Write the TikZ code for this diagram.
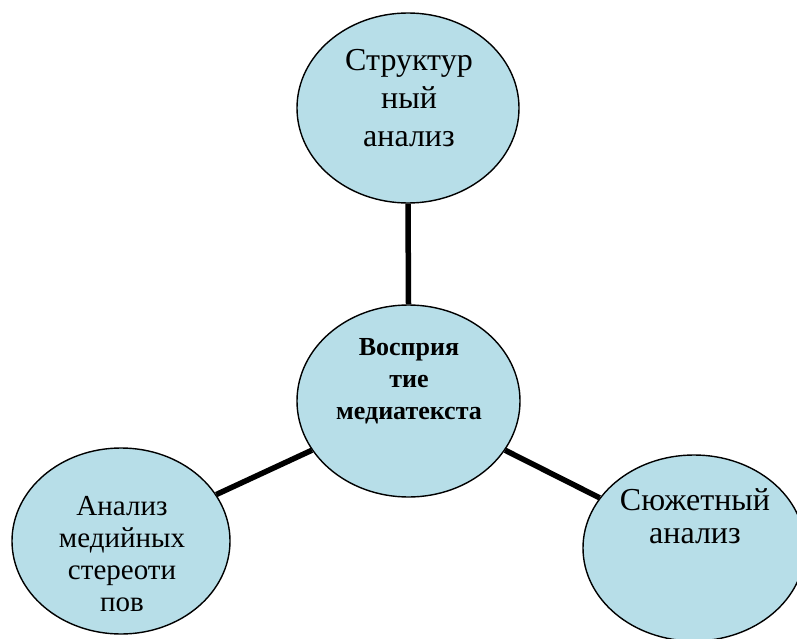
\documentclass[tikz,border=0pt]{standalone}
\usepackage{fontspec}
\setmainfont{Liberation Serif}
\usetikzlibrary{shapes.geometric}
\definecolor{bubblefill}{HTML}{B7DEE8}
\tikzset{
  bubble/.style={ellipse, draw=black, line width=1.4pt, fill=bubblefill, inner sep=0pt},
  link/.style={line width=5.5pt, draw=black},
  caption/.style={anchor=base, inner sep=0pt}
}
\newcommand{\lines}[3]{{\fontsize{#1}{#2}\selectfont\begin{tabular}[t]{@{}c@{}}#3\end{tabular}}}
\begin{document}
\begin{tikzpicture}[x=1pt,y=-1pt]
\useasboundingbox (0,0) rectangle (797,639);
% bubbles
\node[bubble, minimum width=222pt, minimum height=190pt] (top) at (408,108) {};
\node[bubble, minimum width=223pt, minimum height=192pt] (mid) at (408.5,401) {};
\node[bubble, minimum width=218pt, minimum height=186pt] (left) at (121,541) {};
\node[bubble, minimum width=222pt, minimum height=186pt] (right) at (694,548) {};
% connectors
\draw[link] (top.south) -- (mid.north);
\draw[link] (mid.207) -- (left.26);
\draw[link] (mid.-27) -- (right.152);
% captions
\node[caption] (toptext) at (409,71) {\lines{32}{38}{Структур\\ный\\анализ}};
\node[caption] (midtext) at (409,355) {\lines{26}{32}{\bfseries Восприя\\\bfseries тие\\\bfseries медиатекста}};
\node[caption] (lefttext) at (122,515) {\lines{29}{32}{Анализ\\медийных\\стереоти\\пов}};
\node[caption] (righttext) at (695,510) {\lines{32}{33}{Сюжетный\\анализ}};
\end{tikzpicture}
\end{document}
